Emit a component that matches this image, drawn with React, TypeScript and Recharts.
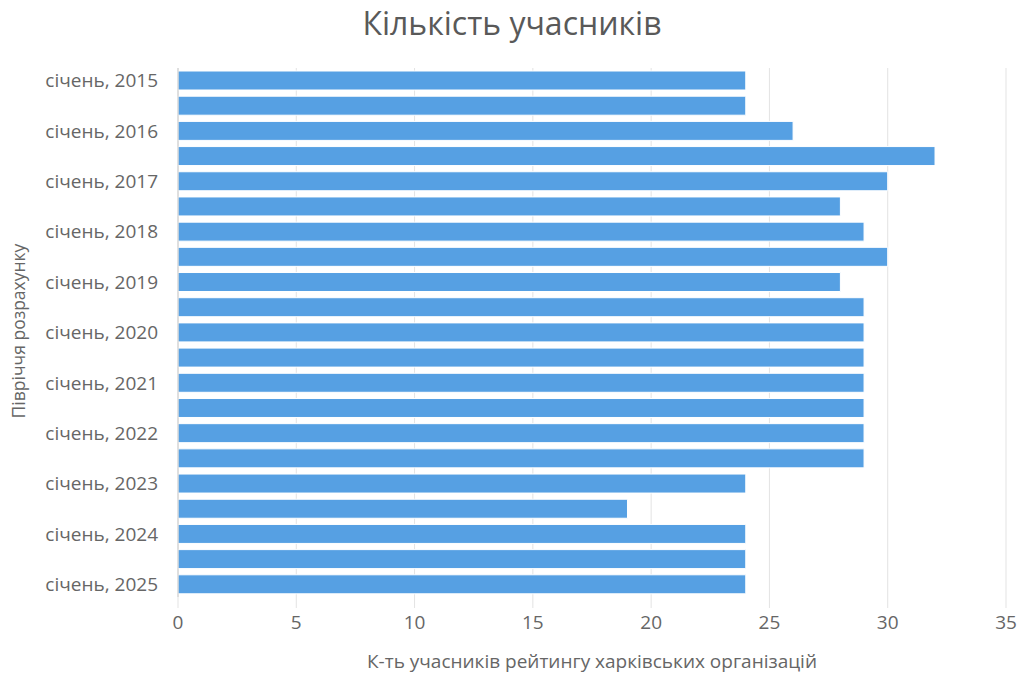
import { BarChart, Bar, XAxis, YAxis, CartesianGrid } from "recharts";

const periods = [
  "січень, 2015", "липень, 2015",
  "січень, 2016", "липень, 2016",
  "січень, 2017", "липень, 2017",
  "січень, 2018", "липень, 2018",
  "січень, 2019", "липень, 2019",
  "січень, 2020", "липень, 2020",
  "січень, 2021", "липень, 2021",
  "січень, 2022", "липень, 2022",
  "січень, 2023", "липень, 2023",
  "січень, 2024", "липень, 2024",
  "січень, 2025",
];

const participants = [24, 24, 26, 32, 30, 28, 29, 30, 28, 29, 29, 29, 29, 29, 29, 29, 24, 19, 24, 24, 24];

const xTicks = [0, 5, 10, 15, 20, 25, 30, 35];

const FONT = "'Open Sans', Arial, sans-serif";
const TEXT = "#666666";

export default function App() {
  const data = periods.map((p, i) => ({ name: p, value: participants[i] }));

  return (
    <div style={{ position: "absolute", left: 0, top: 0, width: 1024, height: 683, fontFamily: FONT, background: "#fff" }}>
      <div
        style={{
          position: "absolute",
          left: 0,
          top: 1,
          width: 1024,
          lineHeight: "normal",
          textAlign: "center",
          fontSize: 32,
          color: "#595959",
        }}
      >
        Кількість учасників
      </div>
      <div
        style={{
          position: "absolute",
          left: 18,
          top: 331,
          transform: "translate(-50%, -50%) rotate(-90deg)",
          whiteSpace: "nowrap",
          fontSize: 17.5,
          color: TEXT,
        }}
      >
        Півріччя розрахунку
      </div>
      <div style={{ position: "absolute", left: 178, width: 828, top: 648, textAlign: "center", fontSize: 19, color: TEXT }}>
        К-ть учасників рейтингу харківських організацій
      </div>
      <BarChart
        width={1024}
        height={683}
        data={data}
        layout="vertical"
        margin={{ top: 68, right: 18, left: 0, bottom: 0 }}
        barSize={19}
      >
        <CartesianGrid horizontal={false} stroke="#e3e3e3" />
        <XAxis
          type="number"
          domain={[0, 35]}
          ticks={xTicks}
          axisLine={false}
          tickLine={{ stroke: "#e3e3e3" }}
          tickSize={11}
          tickMargin={8}
          tick={{ fontSize: 19, fill: TEXT, fontFamily: FONT }}
          height={86}
        />
        <YAxis
          type="category"
          dataKey="name"
          width={178}
          interval={1}
          axisLine={{ stroke: "#cccccc" }}
          tickLine={false}
          tickSize={0}
          tickMargin={20}
          tick={{ fontSize: 19, fill: TEXT, fontFamily: FONT }}
        />
        <Bar dataKey="value" fill="#56A0E3" stroke="#ffffff" strokeWidth={1} isAnimationActive={false} />
      </BarChart>
    </div>
  );
}
